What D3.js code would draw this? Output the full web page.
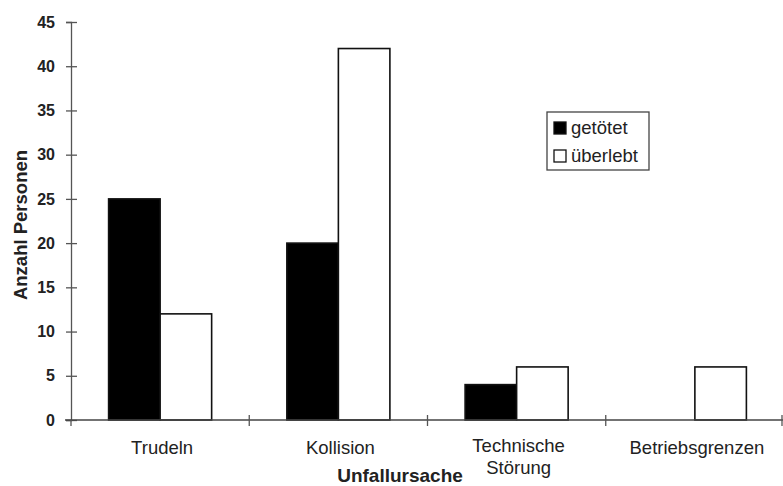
<!DOCTYPE html>
<html>
<head>
<meta charset="utf-8">
<script src="https://cdn.jsdelivr.net/npm/d3@7"></script>
<style>
  body { margin: 0; background: #fff; }
  svg { display: block; font-family: "Liberation Sans", Arial, sans-serif; }
</style>
</head>
<body>
<svg id="chart" width="783" height="486"></svg>
<script>
const categories = ["Trudeln", "Kollision", "Technische\nStörung", "Betriebsgrenzen"];
const seriesNames = ["getötet", "überlebt"];
const getoetet = [25, 20, 4, 0];
const ueberlebt = [12, 42, 6, 6];
const yTicks = [0, 5, 10, 15, 20, 25, 30, 35, 40, 45];

const svg = d3.select("#chart");
const mLeft = 71, mRight = 783, mTop = 22, mBottom = 420;

const x = d3.scaleBand().domain(categories).range([mLeft, mRight + 1]).padding(0);
const x1 = d3.scaleBand().domain(seriesNames).range([0, x.bandwidth()]).paddingInner(0).paddingOuter(0.73);
const y = d3.scaleLinear().domain([0, 45]).range([mBottom, mTop]);

const data = categories.map((c, i) => ({ cat: c, values: [
  { s: "getötet", v: getoetet[i] },
  { s: "überlebt", v: ueberlebt[i] }
]}));

const fills = { "getötet": "#000", "überlebt": "#fff" };

// bars
const groups = svg.append("g").selectAll("g").data(data).join("g")
  .attr("transform", d => `translate(${x(d.cat)},0)`);
groups.selectAll("rect").data(d => d.values.filter(e => e.v > 0)).join("rect")
  .attr("x", d => x1(d.s))
  .attr("y", d => y(d.v))
  .attr("width", x1.bandwidth())
  .attr("height", d => y(0) - y(d.v))
  .attr("fill", d => fills[d.s])
  .attr("stroke", "#111")
  .attr("stroke-width", 1.6);

// y axis
const yAxis = svg.append("g").attr("transform", `translate(${mLeft},0)`)
  .call(d3.axisLeft(y).tickValues(yTicks).tickSize(5).tickPadding(10));
yAxis.select(".domain").attr("stroke", "#555").attr("stroke-width", 1.3);
yAxis.selectAll(".tick line").attr("stroke", "#555").attr("x2", 6).attr("x1", -5).attr("stroke-width", 1.3);
yAxis.selectAll(".tick text").attr("font-size", 16).attr("font-weight", "bold").attr("fill", "#222")
  .attr("x", -16);

// x axis
const xAxis = svg.append("g").attr("transform", `translate(0,${mBottom})`);
xAxis.append("line").attr("x1", mLeft - 6).attr("x2", mRight).attr("y1", 0).attr("y2", 0)
  .attr("stroke", "#444").attr("stroke-width", 1.3);
const bounds = categories.map(c => x(c)).concat([x(categories[categories.length - 1]) + x.bandwidth()]);
xAxis.selectAll("line.tk").data(bounds.slice(1)).join("line").attr("class", "tk")
  .attr("x1", d => Math.min(d, mRight - 1)).attr("x2", d => Math.min(d, mRight - 1))
  .attr("y1", -5).attr("y2", 6).attr("stroke", "#555").attr("stroke-width", 1.3);
xAxis.append("line").attr("x1", mLeft).attr("x2", mLeft).attr("y1", 0).attr("y2", 6)
  .attr("stroke", "#555").attr("stroke-width", 1.3);

const labels = xAxis.selectAll("text.cat").data(categories).join("text").attr("class", "cat")
  .attr("text-anchor", "middle")
  .attr("font-size", 18.5)
  .attr("fill", "#222")
  .attr("transform", d => `translate(${x(d) + x.bandwidth() / 2 + 2},${d.includes("\n") ? 32 : 34})`);
labels.each(function(d) {
  const lines = d.split("\n");
  d3.select(this).selectAll("tspan").data(lines).join("tspan")
    .attr("x", 0).attr("dy", (l, i) => i === 0 ? 0 : 22).text(l => l);
});

// axis titles
svg.append("text").attr("x", 400).attr("y", 482).attr("text-anchor", "middle")
  .attr("font-size", 19).attr("font-weight", "bold").attr("fill", "#222").text("Unfallursache");
svg.append("text").attr("transform", "translate(27,225) rotate(-90)").attr("text-anchor", "middle")
  .attr("font-size", 18.5).attr("font-weight", "bold").attr("fill", "#222").text("Anzahl Personen");

// legend
const lg = svg.append("g").attr("transform", "translate(547,112)");
lg.append("rect").attr("width", 102).attr("height", 58).attr("fill", "#fff")
  .attr("stroke", "#444").attr("stroke-width", 1.3);
const items = lg.selectAll("g.it").data(seriesNames).join("g").attr("class", "it")
  .attr("transform", (d, i) => `translate(7,${21 + i * 28})`);
items.append("rect").attr("x", 0).attr("y", -11).attr("width", 12).attr("height", 12)
  .attr("fill", d => fills[d]).attr("stroke", "#111").attr("stroke-width", 1.3);
items.append("text").attr("x", 17).attr("y", 1).attr("font-size", 18.5).attr("fill", "#222").text(d => d);
</script>
</body>
</html>
